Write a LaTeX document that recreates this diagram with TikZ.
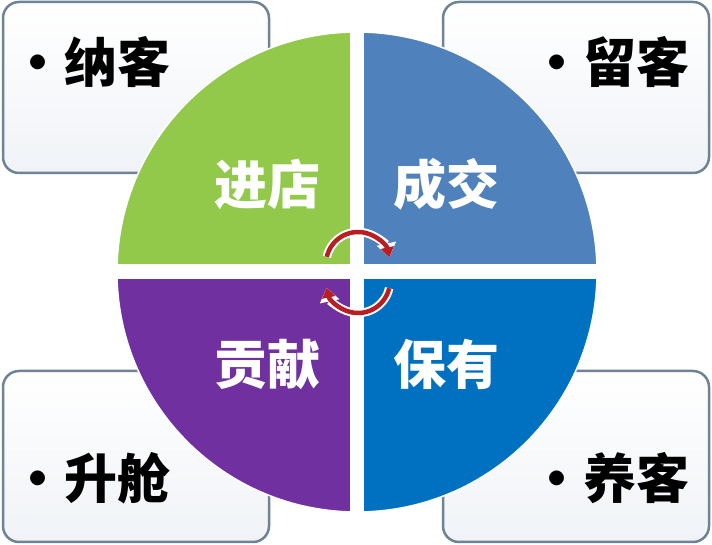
\documentclass[tikz,border=0pt]{standalone}
\usepackage{fontspec}
\setmainfont{Noto Sans CJK SC}
\usepackage{tikz}
\usetikzlibrary{arrows.meta}

\definecolor{qgreen}{HTML}{92C94A}
\definecolor{qsteel}{HTML}{4F81BD}
\definecolor{qpurple}{HTML}{7030A0}
\definecolor{qblue}{HTML}{0070C0}
\definecolor{boxline}{HTML}{6F8396}
\definecolor{boxfill}{HTML}{F0F3F7}
\definecolor{cycred}{HTML}{B81E22}

\begin{document}
\begin{tikzpicture}[x=1pt, y=1pt,
    box/.style={draw=boxline, line width=2.5pt, rounded corners=16pt,
        top color=white, bottom color=boxfill,
        minimum width=266pt, minimum height=171pt, inner sep=0pt},
    item/.style={font=\fontsize{53}{53}\selectfont\bfseries, text=black, inner sep=0pt},
    quad/.style={font=\fontsize{53}{53}\selectfont\bfseries, text=white, inner sep=0pt},
    halo/.style={draw=white, line width=8.5pt, -{Triangle[length=14pt,width=19pt]}},
    cyc/.style={draw=cycred, line width=4.5pt, -{Triangle[length=10pt,width=13pt]}}]
    \useasboundingbox (0,0) rectangle (712,545);

    % Corner boxes
    \node[box] (nake)   at (136,457.5) {};
    \node[box] (liuke)  at (576,457.5) {};
    \node[box] (shengc) at (136,88.5) {};
    \node[box] (yangke) at (576,88.5) {};

    % Centre of the circle and of the two arrows
    \coordinate (hub) at (357,273);
    \coordinate (hubN) at (358,281);
    \coordinate (hubS) at (358,264);

    % The four quarters
    \fill[qgreen]  (hub) -- ++(-240,0) arc[start angle=180, end angle=90,  radius=240] -- cycle;
    \fill[qsteel]  (hub) -- ++(0,240)  arc[start angle=90,  end angle=0,   radius=240] -- cycle;
    \fill[qblue]   (hub) -- ++(240,0)  arc[start angle=0,   end angle=-90, radius=240] -- cycle;
    \fill[qpurple] (hub) -- ++(0,-240) arc[start angle=270, end angle=180, radius=240] -- cycle;
    \draw[white, line width=1.5pt] (hub) circle[radius=240];

    % White cross between the quarters
    \fill[white] (350,20) rectangle (364,526);
    \fill[white] (105,266) rectangle (609,281);

    % Cycle arrows
    \draw[halo] (hubN) ++(167:32) arc[start angle=167, end angle=12, radius=32];
    \draw[cyc]  (hubN) ++(167:32) arc[start angle=167, end angle=12, radius=32];
    \draw[halo] (hubS) ++(-13:32) arc[start angle=-13, end angle=-168, radius=32];
    \draw[cyc]  (hubS) ++(-13:32) arc[start angle=-13, end angle=-168, radius=32];

    % Quarter labels
    \node[quad] (jindian) at (267,361) {进店};
    \node[quad] (chengj)  at (446,361) {成交};
    \node[quad] (gongx)   at (267,181) {贡献};
    \node[quad] (baoyou)  at (446,181) {保有};

    % Box texts
    \node[item, anchor=west] (nakeT)   at (11,483)  {•纳客};
    \node[item, anchor=east] (liukeT)  at (690,483) {•留客};
    \node[item, anchor=west] (shengcT) at (11,67)   {•升舱};
    \node[item, anchor=east] (yangkeT) at (690,67)  {•养客};
\end{tikzpicture}
\end{document}
